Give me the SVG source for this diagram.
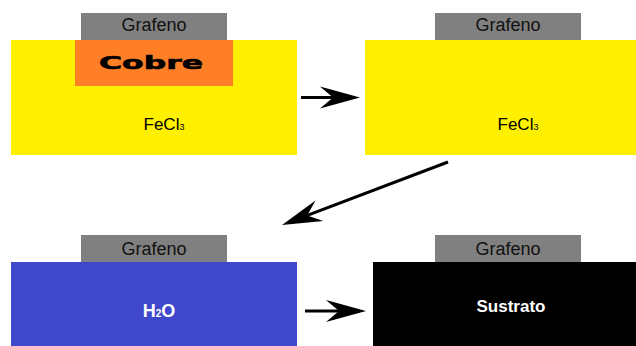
<svg xmlns="http://www.w3.org/2000/svg" width="636" height="346" viewBox="0 0 636 346">
  <defs>
    <style>
      .lbl { font-family: "Liberation Sans", Arial, sans-serif; text-anchor: middle; }
      .graf { fill: #808080; }
      .fecl { fill: #FFF000; }
      .conn { stroke: #000; stroke-width: 3; fill: none; marker-end: url(#head); }
    </style>
    <marker id="head" markerUnits="userSpaceOnUse" orient="auto" markerWidth="60" markerHeight="30" refX="0" refY="0" viewBox="-25 -15 50 30" overflow="visible">
      <path d="M20,0 L-20,-11 L-7,0 L-20,11 Z" fill="#000"/>
    </marker>
  </defs>
  <rect width="636" height="346" fill="#fff"/>

  <!-- Step 1: copper foil with graphene in FeCl3 -->
  <g id="step1">
    <rect class="graf" x="81" y="13" width="146" height="27"/>
    <text class="lbl" x="154" y="31" font-size="18" fill="#111">Grafeno</text>
    <rect class="fecl" x="11" y="40" width="286" height="115"/>
    <rect x="75" y="40" width="158" height="46" fill="#FF7F27"/>
    <text class="lbl" x="151" y="69" font-size="18" font-weight="900" fill="#000" stroke="#000" stroke-width="0.6" textLength="104" lengthAdjust="spacingAndGlyphs" style="font-family:'DejaVu Sans','Liberation Sans',sans-serif">Cobre</text>
    <text class="lbl" x="164" y="130" font-size="17" fill="#000">FeCl<tspan font-size="9">3</tspan></text>
  </g>

  <!-- Step 2: copper etched away -->
  <g id="step2">
    <rect class="graf" x="435" y="13" width="146" height="27"/>
    <text class="lbl" x="508" y="31" font-size="18" fill="#111">Grafeno</text>
    <rect class="fecl" x="365" y="40" width="271" height="115"/>
    <text class="lbl" x="518" y="130" font-size="17" fill="#000">FeCl<tspan font-size="9">3</tspan></text>
  </g>

  <!-- Step 3: rinse in water -->
  <g id="step3">
    <rect class="graf" x="81" y="235" width="146" height="27"/>
    <text class="lbl" x="154" y="255" font-size="18" fill="#111">Grafeno</text>
    <rect x="11" y="262" width="286" height="84" fill="#3F48CC"/>
    <text class="lbl" x="159" y="317" font-size="18" font-weight="bold" fill="#fff">H<tspan font-size="10">2</tspan>O</text>
  </g>

  <!-- Step 4: transferred to substrate -->
  <g id="step4">
    <rect class="graf" x="435" y="235" width="146" height="27"/>
    <text class="lbl" x="508" y="255" font-size="18" fill="#111">Grafeno</text>
    <rect x="373" y="262" width="263" height="84" fill="#000"/>
    <text class="lbl" x="511" y="312" font-size="17" font-weight="bold" fill="#fff">Sustrato</text>
  </g>

  <!-- Process arrows -->
  <g id="connectors">
    <line class="conn" x1="301" y1="97.5" x2="340" y2="97.5"/>
    <line class="conn" x1="448" y1="162" x2="300.7" y2="217.9"/>
    <line class="conn" x1="305" y1="311" x2="346" y2="311"/>
  </g>
</svg>
